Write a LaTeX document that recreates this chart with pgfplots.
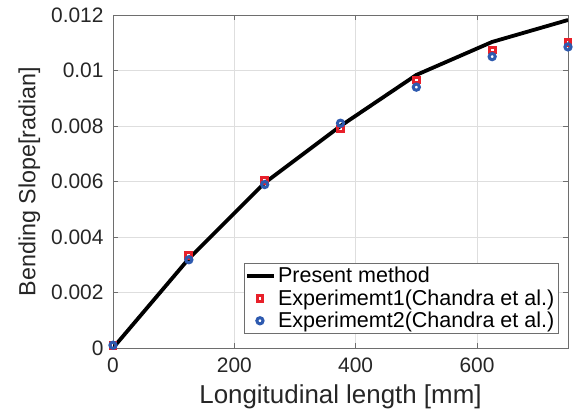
\documentclass[border=0pt]{standalone}
\usepackage{fontspec}
\setmainfont{Liberation Sans}
\usepackage{pgfplots}
\pgfplotsset{compat=1.18}
\definecolor{mred}{RGB}{232,32,42}
\definecolor{mblue}{RGB}{46,90,175}
\definecolor{gridgray}{RGB}{222,222,222}
\definecolor{axgray}{RGB}{110,110,110}
\pgfplotsset{
  longline/.style={legend image code/.code={\draw[##1] (0cm,0cm) -- (0.95cm,0cm);}},
  onemark/.style={legend image code/.code={\draw[##1] plot coordinates {(0.45cm,0cm)};}},
}

\begin{document}
\begin{tikzpicture}
\begin{axis}[
  name=ax,
  scale only axis,
  width=455bp, height=333bp,
  xmin=0, xmax=750, ymin=0, ymax=0.012,
  xtick={0,200,400,600},
  ytick={0,0.002,0.004,0.006,0.008,0.010,0.012},
  yticklabels={0,0.002,0.004,0.006,0.008,0.01,0.012},
  /pgf/number format/assume math mode=true,
  scaled y ticks=false,
  tick align=inside,
  major tick length=5bp,
  tick style={axgray, line width=0.6bp},
  axis line style={axgray, line width=0.8bp},
  grid=major,
  major grid style={gridgray, line width=0.7bp},
  ticklabel style={font=\fontsize{21}{24}\selectfont, text=black!85},
  xticklabel style={yshift=-6bp},
  yticklabel style={xshift=-6bp},
  xlabel={Longitudinal length [mm]},
  ylabel={Bending Slope[radian]},
  xlabel style={font=\fontsize{26}{29}\selectfont, text=black!85, yshift=-6bp},
  ylabel style={font=\fontsize{23.4}{26}\selectfont, text=black!85, yshift=4bp},
  legend style={at={(0.978,0.045)}, anchor=south east, draw=axgray,
    font=\fontsize{21.6}{24}\selectfont, row sep=1.5bp, inner sep=1.5bp,
    cells={anchor=west}},
  legend cell align=left,
]
\addplot[black, line width=3.8bp, longline] coordinates {
  (0,0) (125,0.00322) (250,0.00595) (375,0.00800) (500,0.00984) (625,0.01103) (750,0.01182)
};
\addlegendentry{Present method}
\addplot[only marks, mark=square, mark size=2.9bp, mred, line width=3bp, onemark] coordinates {
  (0,0.0001) (125,0.00334) (250,0.00603) (375,0.00789) (500,0.00966) (625,0.01074) (750,0.01100)
};
\addlegendentry{Experimemt1(Chandra et al.)}
\addplot[only marks, mark=o, mark size=3.1bp, mblue, line width=3bp, onemark] coordinates {
  (0,0.0001) (125,0.00318) (250,0.00589) (375,0.00810) (500,0.00940) (625,0.01050) (750,0.01085)
};
\addlegendentry{Experimemt2(Chandra et al.)}
\end{axis}
\useasboundingbox ([shift={(-113bp,-64bp)}]ax.south west) rectangle ([shift={(7bp,15bp)}]ax.north east);
\end{tikzpicture}
\end{document}
